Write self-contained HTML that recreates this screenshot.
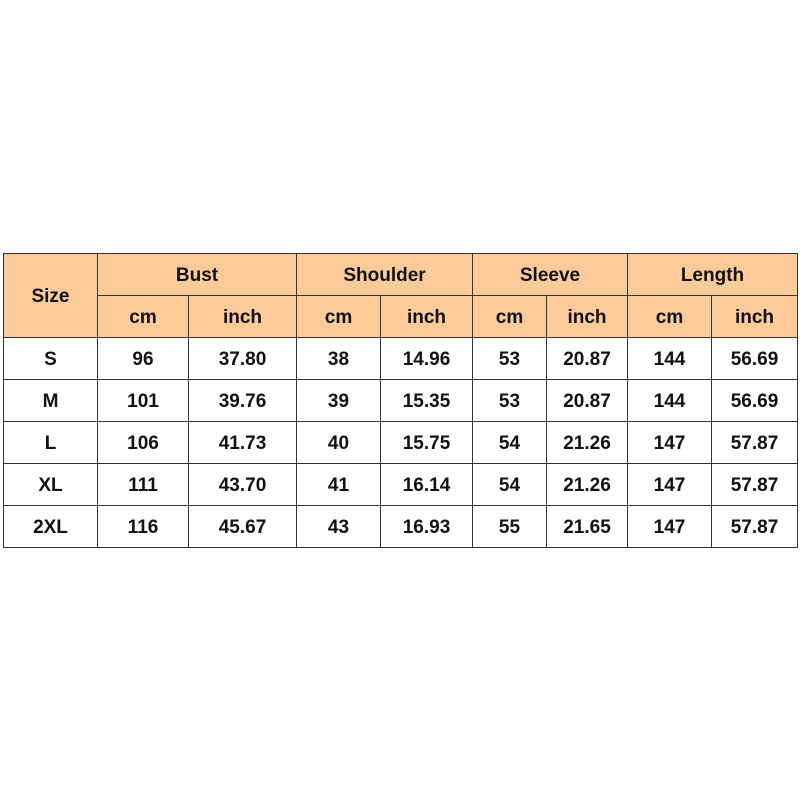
<!DOCTYPE html>
<html><head><style>
body{margin:0;width:800px;height:800px;background:#fff;position:relative;font-family:"Liberation Sans",Arial,sans-serif;}
table{position:absolute;left:3px;top:253px;border-collapse:collapse;table-layout:fixed;}
td{border:1px solid #333;height:42px;padding:3px 0 0 0;box-sizing:border-box;text-align:center;font-weight:bold;font-size:19px;color:#111;}
.h{background:#FCCB99;}
</style></head><body>
<table>
<colgroup><col style="width:94px"><col style="width:91px"><col style="width:108px"><col style="width:84px"><col style="width:92px"><col style="width:74px"><col style="width:81px"><col style="width:84px"><col style="width:86px"></colgroup>
<tr class="h"><td rowspan="2">Size</td><td colspan="2">Bust</td><td colspan="2">Shoulder</td><td colspan="2">Sleeve</td><td colspan="2">Length</td></tr>
<tr class="h"><td>cm</td><td>inch</td><td>cm</td><td>inch</td><td>cm</td><td>inch</td><td>cm</td><td>inch</td></tr>
<tr><td>S</td><td>96</td><td>37.80</td><td>38</td><td>14.96</td><td>53</td><td>20.87</td><td>144</td><td>56.69</td></tr>
<tr><td>M</td><td>101</td><td>39.76</td><td>39</td><td>15.35</td><td>53</td><td>20.87</td><td>144</td><td>56.69</td></tr>
<tr><td>L</td><td>106</td><td>41.73</td><td>40</td><td>15.75</td><td>54</td><td>21.26</td><td>147</td><td>57.87</td></tr>
<tr><td>XL</td><td>111</td><td>43.70</td><td>41</td><td>16.14</td><td>54</td><td>21.26</td><td>147</td><td>57.87</td></tr>
<tr><td>2XL</td><td>116</td><td>45.67</td><td>43</td><td>16.93</td><td>55</td><td>21.65</td><td>147</td><td>57.87</td></tr>
</table>
</body></html>
